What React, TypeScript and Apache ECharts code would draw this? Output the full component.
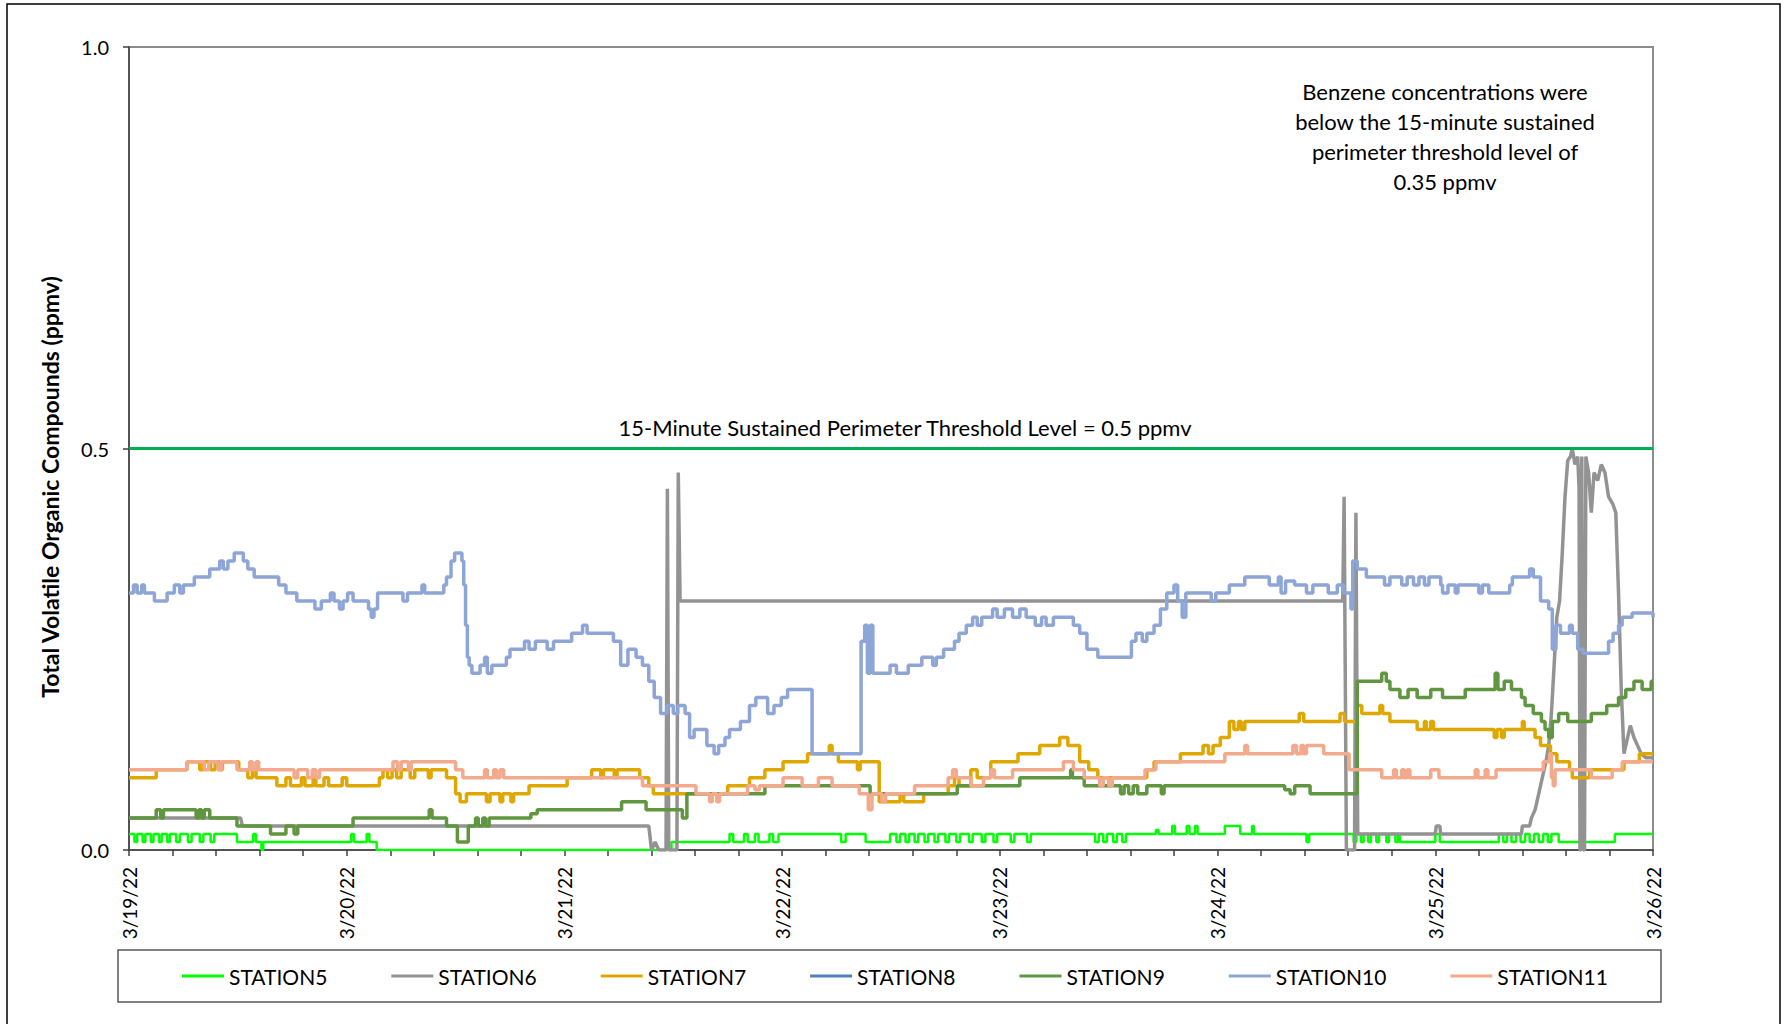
import React, { useEffect, useRef } from "react";
import * as echarts from "echarts";

// x values are hours after 3/19/22 00:00
const tickLabels = ["3/19/22", "3/20/22", "3/21/22", "3/22/22", "3/23/22", "3/24/22", "3/25/22", "3/26/22"];
const yTicks = [0, 0.5, 1.0];
const seriesNames = ["STATION5", "STATION6", "STATION7", "STATION8", "STATION9", "STATION10", "STATION11"];
const seriesColors = ["#00FF00", "#939393", "#DFA700", "#4F81BD", "#60963F", "#8EA5D8", "#F2A98C"];
const thresholdValue = 0.5;
const thresholdText = "15-Minute Sustained Perimeter Threshold Level = 0.5 ppmv";
const noteLines = ["Benzene concentrations were", "below the 15-minute sustained", "perimeter threshold level of", "0.35 ppmv"];
const yTitle = "Total Volatile Organic Compounds (ppmv)";

const station5 = [[0,0.02],[0.6,0.01],[0.9,0.02],[1.5,0.01],[1.8,0.02],[2.4,0.01],[2.7,0.02],[3.3,0.01],[3.6,0.02],[4.2,0.01],[4.5,0.02],[5.2,0.01],[5.6,0.02],[6.5,0.01],[6.9,0.02],[7.8,0.01],[8.2,0.02],[9.0,0.01],[9.4,0.02],[11.9,0.01],[13.7,0.02],[14.0,0.01],[14.6,0.0],[14.8,0.01],[24.5,0.02],[24.8,0.01],[26.2,0.02],[26.5,0.01],[27.3,0],[59.8,0.01],[66.2,0.02],[66.6,0.01],[67.8,0.02],[68.2,0.01],[69.0,0.02],[69.4,0.01],[70.6,0.02],[71.0,0.01],[71.6,0.02],[78.5,0.01],[79.0,0.02],[81.2,0.01],[83.9,0.02],[84.6,0.01],[85.0,0.02],[85.6,0.01],[86.0,0.02],[86.6,0.01],[87.0,0.02],[87.7,0.01],[88.1,0.02],[88.8,0.01],[89.2,0.02],[90.0,0.01],[90.4,0.02],[91.2,0.01],[91.6,0.02],[92.6,0.01],[93.0,0.02],[94.0,0.01],[94.4,0.02],[95.3,0.01],[95.7,0.02],[97.2,0.01],[97.6,0.02],[99.0,0.01],[99.4,0.02],[106.5,0.01],[106.9,0.02],[107.4,0.01],[107.8,0.02],[108.5,0.01],[108.9,0.02],[109.5,0.01],[109.9,0.02],[113.2,0.025],[113.5,0.02],[115.0,0.03],[115.3,0.02],[116.6,0.03],[116.9,0.02],[117.5,0.03],[117.8,0.02],[120.8,0.03],[122.5,0.02],[123.8,0.03],[124.0,0.02],[129.8,0.01],[130.1,0.02],[135.0,0.01],[135.3,0.02],[135.8,0.01],[136.1,0.02],[136.6,0.01],[136.9,0.02],[137.5,0.01],[137.8,0.02],[138.6,0.01],[138.9,0.02],[139.6,0.01],[139.9,0.02],[140.1,0.01],[144.0,0.02],[144.5,0.01],[151.0,0.02],[151.5,0.01],[151.9,0.02],[152.4,0.01],[152.9,0.02],[153.4,0.01],[153.9,0.02],[154.4,0.01],[154.9,0.02],[155.4,0.01],[155.9,0.02],[156.4,0.01],[156.8,0.02],[157.6,0.01],[163.8,0.02],[168,0.02]];

const station6 = [[0,0.04],[12.3,0.04],[12.5,0.03],[57.3,0.03],[57.6,0.0],[58.0,0.01],[58.4,0.0],[59.2,0.0],[59.35,0.45],[59.5,0.0],[60.4,0.0],[60.55,0.47],[60.75,0.31],[133.8,0.31],[133.95,0.44],[134.2,0.0],[135.1,0.0],[135.25,0.42],[135.45,0.02],[144.0,0.02],[144.1,0.03],[144.5,0.03],[144.6,0.02],[153.5,0.02],[153.6,0.03],[154.4,0.03],[154.6,0.04],[155.0,0.05],[155.4,0.07],[155.8,0.09],[156.2,0.11],[156.5,0.13],[156.8,0.17],[157.1,0.23],[157.4,0.29],[157.7,0.31],[158.0,0.37],[158.3,0.44],[158.6,0.485],[158.9,0.49],[159.1,0.50],[159.4,0.48],[159.7,0.49],[159.85,0.45],[159.95,0.0],[160.05,0.0],[160.15,0.49],[160.3,0.0],[160.45,0.0],[160.6,0.49],[160.9,0.47],[161.2,0.42],[161.5,0.47],[161.9,0.46],[162.3,0.48],[162.7,0.47],[163.1,0.44],[163.6,0.43],[163.9,0.42],[164.2,0.32],[164.5,0.20],[164.8,0.12],[165.2,0.14],[165.5,0.155],[165.9,0.14],[166.3,0.13],[166.7,0.12],[167.2,0.115],[168,0.115]];

const station7 = [[0,0.09],[3.0,0.10],[6.4,0.11],[7.8,0.10],[8.2,0.11],[9.0,0.10],[9.5,0.11],[10.0,0.10],[10.3,0.11],[12.1,0.10],[13.1,0.09],[13.6,0.10],[14.0,0.09],[16.3,0.08],[17.3,0.09],[17.8,0.08],[19.0,0.09],[19.4,0.08],[20.3,0.09],[20.6,0.08],[21.5,0.09],[22.0,0.08],[23.5,0.09],[24.0,0.08],[27.6,0.09],[28.0,0.10],[28.5,0.09],[29.0,0.10],[29.5,0.09],[30.0,0.10],[31.0,0.09],[31.5,0.10],[33.0,0.09],[33.3,0.10],[35.0,0.09],[36.0,0.07],[36.5,0.06],[37.2,0.07],[39.4,0.06],[39.8,0.07],[40.9,0.06],[41.2,0.07],[42.1,0.06],[42.4,0.07],[44.1,0.08],[48.3,0.09],[51.0,0.10],[52.0,0.09],[52.3,0.10],[53.5,0.09],[53.8,0.10],[56.3,0.09],[57.3,0.08],[57.8,0.07],[66.0,0.08],[68.4,0.09],[70.1,0.10],[72.1,0.11],[74.8,0.12],[77.2,0.13],[77.5,0.12],[78.2,0.11],[80.3,0.10],[80.6,0.11],[82.7,0.06],[85.0,0.07],[85.4,0.06],[87.6,0.07],[90.3,0.08],[91.0,0.09],[91.5,0.08],[92.8,0.10],[93.5,0.09],[95.0,0.11],[98.0,0.12],[100.4,0.13],[102.6,0.14],[103.5,0.13],[104.8,0.11],[105.8,0.10],[106.8,0.09],[112.2,0.10],[113.0,0.11],[115.9,0.12],[118.4,0.13],[119.0,0.12],[119.5,0.13],[120.3,0.14],[121.3,0.16],[121.8,0.15],[122.3,0.16],[122.6,0.15],[123.0,0.16],[129.0,0.17],[129.5,0.16],[133.5,0.17],[134.0,0.16],[135.4,0.18],[135.9,0.17],[137.9,0.18],[138.2,0.17],[139.0,0.16],[142.0,0.15],[142.8,0.16],[143.0,0.15],[143.5,0.16],[143.8,0.15],[150.5,0.14],[150.8,0.15],[151.3,0.14],[151.6,0.15],[153.6,0.16],[153.8,0.15],[155.0,0.14],[155.6,0.13],[156.7,0.12],[157.4,0.11],[158.8,0.10],[159.1,0.09],[161.0,0.10],[164.8,0.11],[166.5,0.12],[168,0.12]];

const station8: number[][] = [];

const station9 = [[0,0.04],[3.0,0.05],[3.5,0.04],[3.8,0.05],[7.4,0.04],[7.7,0.05],[8.0,0.04],[8.3,0.05],[8.9,0.04],[11.9,0.03],[15.6,0.02],[17.3,0.03],[18.2,0.02],[18.6,0.03],[24.7,0.04],[33.1,0.05],[33.4,0.04],[35.0,0.03],[36.2,0.01],[37.4,0.03],[38.2,0.04],[38.5,0.03],[39.0,0.04],[39.3,0.03],[39.7,0.04],[44.3,0.045],[45.0,0.05],[54.3,0.06],[57.0,0.05],[61.0,0.04],[61.5,0.07],[70.1,0.08],[81.7,0.07],[91.3,0.08],[98.2,0.09],[103.8,0.10],[104.0,0.09],[105.3,0.08],[109.3,0.07],[109.7,0.08],[110.2,0.07],[110.7,0.08],[111.2,0.07],[112.2,0.08],[113.8,0.07],[114.1,0.08],[127.4,0.075],[128.0,0.07],[128.5,0.08],[130.2,0.07],[135.4,0.21],[138.1,0.22],[138.6,0.21],[139.0,0.20],[140.1,0.19],[141.0,0.20],[142.0,0.19],[143.5,0.20],[144.8,0.19],[147.3,0.20],[150.6,0.22],[150.9,0.20],[151.6,0.21],[152.4,0.20],[153.5,0.19],[153.9,0.18],[154.8,0.17],[155.7,0.16],[156.1,0.15],[156.5,0.14],[156.9,0.16],[157.6,0.17],[158.6,0.16],[161.2,0.17],[162.9,0.18],[164.2,0.19],[165.0,0.20],[165.9,0.21],[166.8,0.20],[167.8,0.21],[168,0.21]];

const station10 = [[0,0.32],[0.5,0.33],[0.9,0.32],[1.4,0.33],[1.7,0.32],[2.8,0.31],[4.2,0.32],[5.0,0.33],[5.6,0.32],[6.0,0.33],[7.2,0.34],[8.9,0.35],[10.0,0.36],[10.4,0.35],[10.9,0.36],[11.6,0.37],[12.6,0.36],[13.1,0.35],[13.8,0.34],[16.5,0.33],[17.3,0.32],[18.5,0.31],[20.5,0.30],[21.2,0.31],[22.2,0.32],[22.6,0.31],[23.2,0.30],[23.6,0.31],[24.1,0.32],[24.7,0.31],[26.4,0.30],[26.7,0.29],[27.0,0.30],[27.4,0.32],[30.2,0.31],[30.7,0.32],[32.3,0.33],[32.6,0.32],[34.7,0.33],[35.0,0.34],[35.5,0.36],[35.9,0.37],[36.7,0.36],[36.9,0.33],[37.1,0.28],[37.3,0.24],[37.5,0.23],[37.8,0.22],[38.7,0.23],[39.2,0.24],[39.5,0.22],[40.0,0.23],[41.6,0.24],[42.0,0.25],[43.6,0.26],[44.1,0.25],[44.8,0.26],[46.1,0.25],[46.8,0.26],[48.8,0.27],[50.0,0.28],[50.5,0.27],[53.4,0.26],[54.2,0.23],[55.0,0.25],[55.9,0.24],[56.6,0.23],[57.3,0.21],[57.9,0.19],[58.6,0.17],[59.3,0.18],[60.0,0.17],[60.5,0.18],[61.3,0.17],[61.8,0.14],[62.3,0.15],[63.7,0.13],[64.5,0.12],[65.0,0.13],[65.7,0.14],[66.2,0.15],[67.4,0.16],[68.4,0.18],[69.1,0.19],[70.4,0.17],[71.1,0.18],[71.9,0.19],[72.6,0.20],[75.3,0.12],[80.7,0.26],[81.1,0.28],[81.4,0.22],[81.7,0.28],[82.0,0.22],[83.9,0.23],[84.6,0.22],[85.9,0.23],[87.4,0.24],[88.6,0.23],[89.0,0.24],[89.8,0.25],[91.0,0.26],[91.5,0.27],[92.3,0.28],[93.0,0.29],[93.5,0.28],[94.0,0.29],[95.2,0.30],[95.7,0.29],[96.5,0.30],[97.4,0.29],[98.2,0.30],[98.9,0.29],[99.9,0.28],[100.6,0.29],[101.1,0.28],[101.9,0.29],[104.1,0.28],[104.8,0.27],[105.6,0.25],[106.8,0.24],[110.5,0.26],[111.0,0.27],[111.7,0.26],[112.2,0.27],[113.0,0.28],[113.7,0.30],[114.4,0.32],[115.2,0.33],[115.6,0.31],[116.1,0.29],[116.5,0.32],[119.3,0.31],[119.8,0.32],[121.3,0.33],[123.0,0.34],[125.7,0.33],[126.7,0.34],[127.0,0.32],[127.5,0.335],[128.5,0.33],[129.8,0.32],[130.5,0.33],[132.2,0.32],[133.2,0.33],[133.9,0.32],[134.7,0.30],[134.9,0.36],[135.4,0.35],[136.4,0.34],[138.4,0.33],[139.0,0.34],[140.3,0.33],[140.9,0.34],[141.6,0.33],[142.2,0.34],[142.8,0.33],[143.3,0.34],[144.6,0.33],[144.8,0.32],[145.4,0.33],[146.2,0.32],[146.5,0.33],[148.8,0.32],[149.2,0.33],[149.9,0.32],[152.2,0.33],[152.5,0.34],[154.4,0.35],[154.8,0.34],[155.6,0.31],[156.5,0.30],[156.9,0.25],[157.3,0.28],[157.8,0.27],[158.8,0.28],[159.1,0.27],[159.7,0.25],[160.3,0.245],[163.1,0.26],[163.6,0.27],[164.2,0.28],[164.6,0.29],[165.7,0.295],[168,0.29]];

const station11 = [[0,0.10],[6.4,0.11],[8.3,0.10],[8.8,0.11],[9.8,0.10],[10.2,0.11],[11.9,0.10],[13.3,0.11],[13.6,0.10],[14.0,0.11],[14.3,0.10],[18.2,0.09],[18.6,0.10],[19.7,0.09],[20.2,0.10],[20.6,0.09],[21.0,0.10],[29.1,0.11],[29.6,0.10],[30.0,0.11],[30.8,0.10],[31.1,0.11],[36.0,0.10],[36.8,0.09],[39.2,0.10],[39.5,0.09],[40.2,0.10],[40.5,0.09],[40.9,0.10],[41.3,0.09],[56.6,0.08],[62.5,0.07],[64.0,0.06],[64.3,0.07],[64.8,0.06],[65.1,0.07],[68.2,0.08],[69.0,0.075],[69.5,0.08],[72.1,0.09],[74.2,0.08],[76.0,0.09],[77.5,0.08],[80.5,0.07],[81.5,0.05],[81.9,0.07],[83.0,0.06],[83.4,0.07],[86.6,0.08],[90.3,0.09],[90.8,0.10],[91.2,0.09],[92.8,0.08],[94.2,0.09],[95.0,0.10],[95.4,0.09],[97.4,0.10],[103.0,0.11],[104.1,0.10],[105.3,0.09],[107.0,0.08],[107.4,0.09],[108.0,0.08],[108.4,0.09],[112.0,0.10],[113.2,0.11],[120.8,0.12],[123.0,0.13],[123.3,0.12],[128.3,0.13],[128.7,0.12],[129.2,0.13],[129.5,0.12],[129.8,0.13],[131.7,0.12],[134.5,0.10],[138.1,0.09],[139.4,0.10],[139.7,0.09],[140.3,0.10],[140.6,0.09],[140.9,0.10],[141.2,0.09],[143.5,0.10],[144.4,0.09],[148.4,0.10],[148.7,0.09],[149.5,0.10],[149.8,0.09],[150.7,0.10],[155.9,0.11],[156.6,0.12],[156.8,0.09],[157.0,0.08],[157.2,0.10],[161.2,0.09],[163.5,0.10],[164.6,0.11],[168,0.11]];

const seriesData = [station5, station6, station7, station8, station9, station10, station11];
const seriesWidths = [2.5, 3.5, 3.5, 3.5, 3.5, 3.5, 3.5];
const seriesStep = ["end", false, "end", "end", "end", "end", "end"];

const FONT = "Lato, 'Open Sans', sans-serif";

export default function App() {
  const ref = useRef<HTMLDivElement>(null);
  useEffect(() => {
    document.body.style.margin = "0";
    const chart = echarts.init(ref.current!, null, { renderer: "svg" });
    const series: any[] = seriesNames.map((name, i) => ({
      name,
      type: "line",
      data: seriesData[i],
      step: seriesStep[i] as any,
      symbol: "none",
      showSymbol: false,
      lineStyle: { color: seriesColors[i], width: seriesWidths[i] },
      itemStyle: { color: seriesColors[i] },
      clip: true,
    }));
    series[series.length - 1].markLine = {
      silent: true,
      symbol: ["none", "none"],
      label: { show: false },
      lineStyle: { color: "#00B050", width: 3, type: "solid" },
      data: [{ yAxis: thresholdValue }],
    };
    chart.setOption({
      animation: false,
      backgroundColor: "#ffffff",
      textStyle: { fontFamily: FONT },
      grid: { left: 129, right: 131, top: 47, bottom: 174, show: true, borderColor: "#8c8c8c", borderWidth: 2, containLabel: false },
      xAxis: {
        type: "value",
        min: 0,
        max: 168,
        interval: 24,
        axisLine: { show: true, onZero: false, lineStyle: { color: "#404040", width: 1.5 } },
        axisTick: { show: true, length: 6, lineStyle: { color: "#404040", width: 1.5 } },
        minorTick: { show: true, splitNumber: 5, length: 6, lineStyle: { color: "#404040", width: 1.5 } },
        splitLine: { show: false },
        axisLabel: {
          rotate: 90,
          margin: 17,
          fontFamily: FONT,
          fontSize: 19,
          color: "#000",
          formatter: (v: number) => tickLabels[Math.round(v / 24)] ?? "",
        },
      },
      yAxis: {
        type: "value",
        min: yTicks[0],
        max: yTicks[yTicks.length - 1],
        interval: 0.5,
        axisLine: { show: true, lineStyle: { color: "#404040", width: 1.5 } },
        axisTick: { show: true, length: 6, lineStyle: { color: "#404040", width: 1.5 } },
        splitLine: { show: false },
        axisLabel: { margin: 20, fontFamily: FONT, fontSize: 20, color: "#000", formatter: (v: number) => v.toFixed(1) },
      },
      legend: {
        data: seriesNames,
        left: 182,
        top: 964,
        padding: 0,
        icon: "rect",
        itemWidth: 42,
        itemHeight: 3,
        itemGap: 64,
        textStyle: { fontFamily: FONT, fontSize: 21, color: "#000", lineHeight: 24 },
      },
      graphic: [
        { type: "rect", silent: true, shape: { x: 7, y: 4, width: 1773, height: 1040 }, style: { fill: "none", stroke: "#000", lineWidth: 1.5 } },
        { type: "rect", silent: true, shape: { x: 118, y: 950, width: 1543, height: 52 }, style: { fill: "none", stroke: "#595959", lineWidth: 1.5 } },
        { type: "text", silent: true, x: 905, y: 427, style: { text: thresholdText, textAlign: "center", textVerticalAlign: "middle", font: `22px ${FONT}`, fill: "#000" } },
        { type: "text", silent: true, x: 1445, y: 136, style: { text: noteLines.join("\n"), textAlign: "center", textVerticalAlign: "middle", font: `22px ${FONT}`, lineHeight: 30, fill: "#000" } },
        { type: "text", silent: true, x: 50, y: 487, rotation: Math.PI / 2, style: { text: yTitle, textAlign: "center", textVerticalAlign: "middle", font: `bold 23px ${FONT}`, fill: "#000" } },
      ],
      series,
    });
    return () => chart.dispose();
  }, []);
  return <div ref={ref} style={{ width: 1784, height: 1024 }} />;
}
